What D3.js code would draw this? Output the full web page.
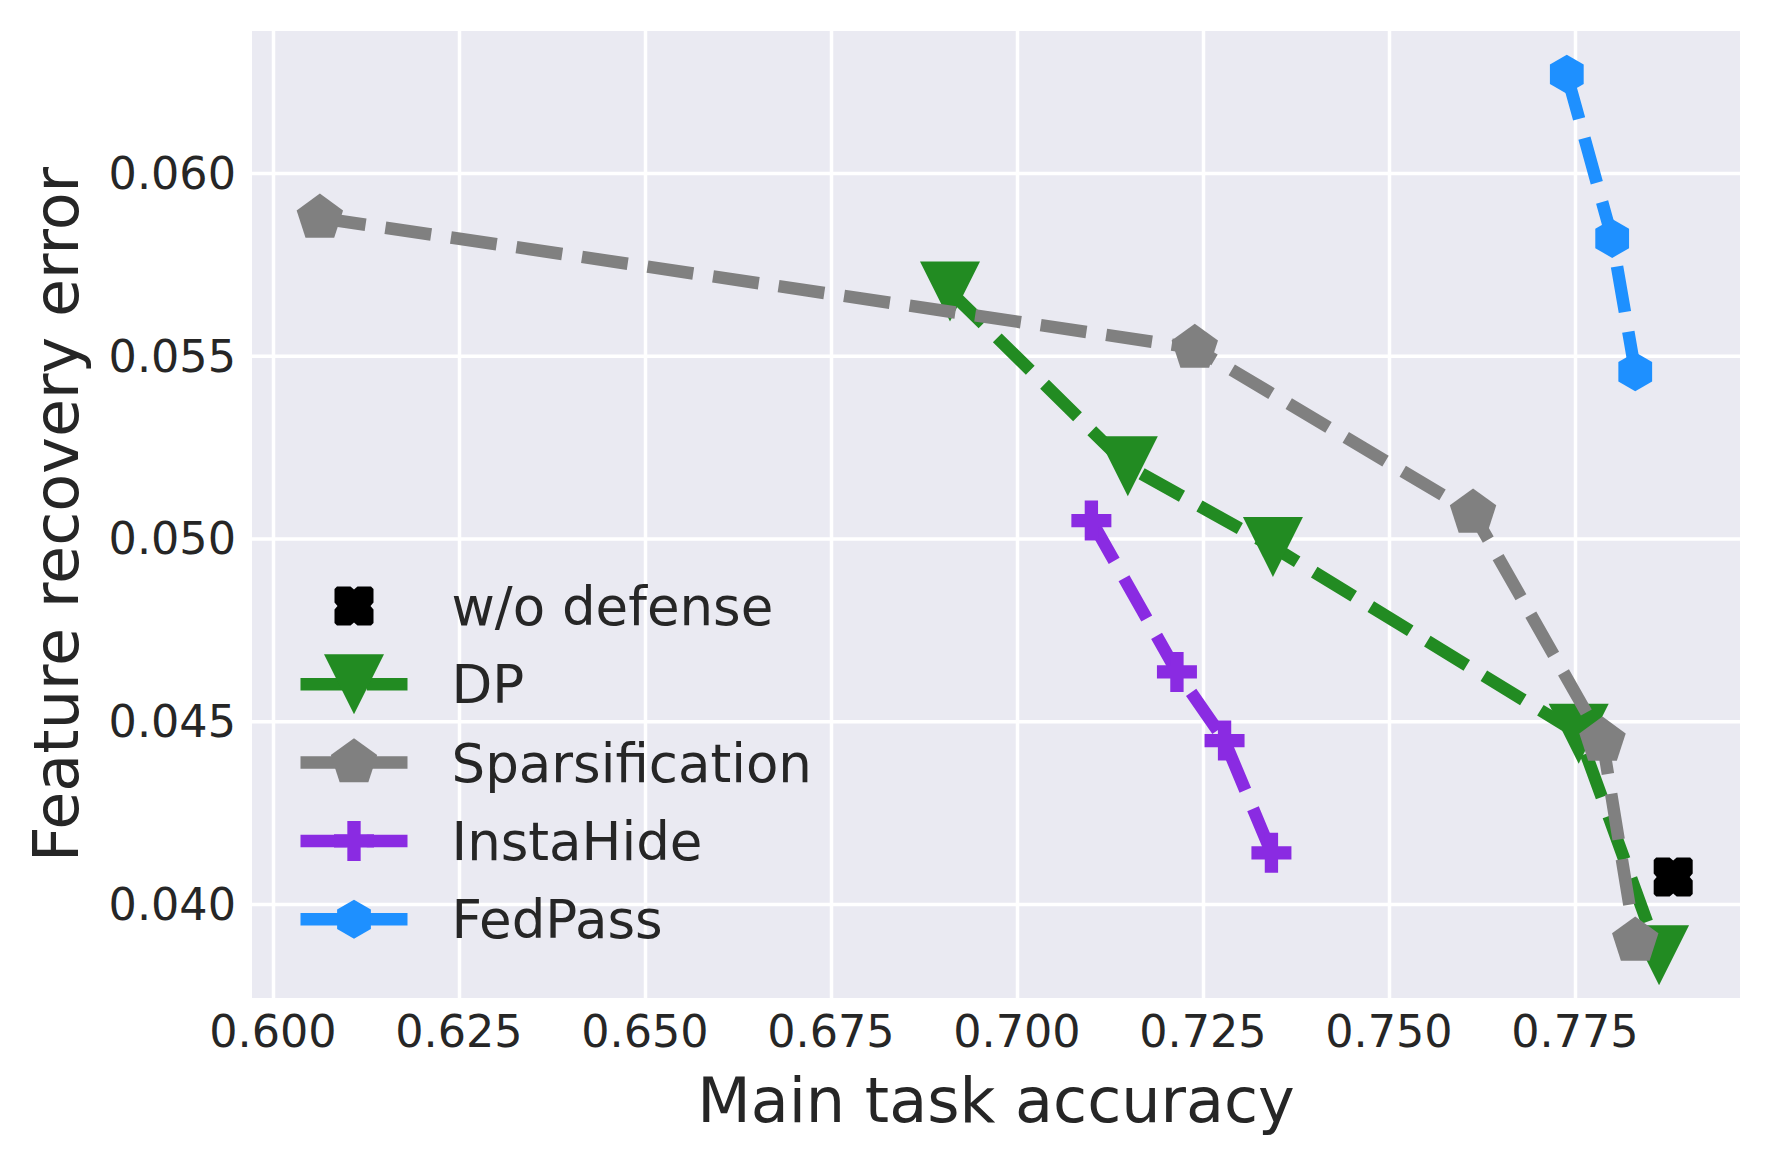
<!DOCTYPE html>
<html>
<head>
<meta charset="utf-8">
<script src="https://cdn.jsdelivr.net/npm/d3@7"></script>
<style>
  html, body { margin: 0; padding: 0; background: #fff; }
  svg { display: block; font-family: "DejaVu Sans", sans-serif; }
</style>
</head>
<body>
<div id="chart"></div>
<script>
// values
const seriesNames = ["w/o defense", "DP", "Sparsification", "InstaHide", "FedPass"];

const accNoDefense = [0.7882];
const errNoDefense = [0.04074];

const accDP = [0.6910, 0.7149, 0.7344, 0.7755, 0.7863];
const errDP = [0.05676, 0.05198, 0.04977, 0.04466, 0.03860];

const accSparsification = [0.6063, 0.7239, 0.7613, 0.7787, 0.7831];
const errSparsification = [0.05877, 0.05521, 0.05070, 0.04446, 0.03899];

const accInstaHide = [0.7100, 0.7215, 0.7279, 0.7342];
const errInstaHide = [0.05049, 0.04635, 0.04447, 0.04140];

const accFedPass = [0.7739, 0.7800, 0.7831];
const errFedPass = [0.06270, 0.05821, 0.05456];

const xTicks = [0.600, 0.625, 0.650, 0.675, 0.700, 0.725, 0.750, 0.775];
const yTicks = [0.040, 0.045, 0.050, 0.055, 0.060];

const xLabel = "Main task accuracy";
const yLabel = "Feature recovery error";

function renderChart(selector = "#chart") {
    const width = 1772;
    const height = 1166;
    const plot = { left: 252, right: 1740, top: 31, bottom: 998 };

    const textColor = "#262626";
    const lineWidth = 12.5;
    const dash = "46.25,20";

    const svg = d3.select(selector).append("svg")
        .attr("width", width)
        .attr("height", height)
        .attr("viewBox", `0 0 ${width} ${height}`);

    svg.append("rect")
        .attr("width", width).attr("height", height)
        .attr("fill", "#fff");

    const x = d3.scaleLinear()
        .domain([0.59718, 0.79718])
        .range([plot.left, plot.right]);

    const y = d3.scaleLinear()
        .domain([0.037428, 0.063885])
        .range([plot.bottom, plot.top]);

    // marker shapes, centred on 0,0
    const markerPaths = {
        "w/o defense": () => {
            const s = 19.5, n = 3, w = 3.5, c = 2.5;
            return `M${-s + c},${-s} L${-w},${-s} L0,${-s + n} L${w},${-s} L${s - c},${-s} L${s},${-s + c}
                    L${s},${-w} L${s - n},0 L${s},${w} L${s},${s - c} L${s - c},${s}
                    L${w},${s} L0,${s - n} L${-w},${s} L${-s + c},${s} L${-s},${s - c}
                    L${-s},${w} L${-s + n},0 L${-s},${-w} L${-s},${-s + c} Z`;
        },
        "DP": () => {
            const s = 30;
            return `M0,${s} L${-s},${-s} L${s},${-s} Z`;
        },
        "Sparsification": () => polygon(5, 24.4),
        "InstaHide": () => {
            const a = 20, b = a / 3;
            return `M${-b},${-a} L${b},${-a} L${b},${-b} L${a},${-b} L${a},${b} L${b},${b}
                    L${b},${a} L${-b},${a} L${-b},${b} L${-a},${b} L${-a},${-b} L${-b},${-b} Z`;
        },
        "FedPass": () => polygon(6, 19.5)
    };

    function polygon(n, r) {
        const pts = d3.range(n).map(k => {
            const ang = -Math.PI / 2 + k * 2 * Math.PI / n;
            return [r * Math.cos(ang), r * Math.sin(ang)];
        });
        return "M" + pts.map(p => p.join(",")).join("L") + "Z";
    }

    const styles = {
        "w/o defense": { color: "#000000", line: false },
        "DP": { color: "#228B22", line: true },
        "Sparsification": { color: "#808080", line: true },
        "InstaHide": { color: "#8A2BE2", line: true },
        "FedPass": { color: "#1E90FF", line: true }
    };

    const seriesData = {
        "w/o defense": d3.zip(accNoDefense, errNoDefense),
        "DP": d3.zip(accDP, errDP),
        "Sparsification": d3.zip(accSparsification, errSparsification),
        "InstaHide": d3.zip(accInstaHide, errInstaHide),
        "FedPass": d3.zip(accFedPass, errFedPass)
    };

    // plot background + grid
    svg.append("rect")
        .attr("x", plot.left).attr("y", plot.top)
        .attr("width", plot.right - plot.left)
        .attr("height", plot.bottom - plot.top)
        .attr("fill", "#EAEAF2");

    const xGrid = svg.append("g")
        .attr("class", "x-grid")
        .attr("transform", `translate(0,${plot.bottom})`)
        .call(d3.axisBottom(x).tickValues(xTicks).tickSize(-(plot.bottom - plot.top)).tickFormat(""));
    xGrid.select(".domain").remove();
    xGrid.selectAll("line").attr("stroke", "#fff").attr("stroke-width", 3.5);

    const yGrid = svg.append("g")
        .attr("class", "y-grid")
        .attr("transform", `translate(${plot.left},0)`)
        .call(d3.axisLeft(y).tickValues(yTicks).tickSize(-(plot.right - plot.left)).tickFormat(""));
    yGrid.select(".domain").remove();
    yGrid.selectAll("line").attr("stroke", "#fff").attr("stroke-width", 3.5);

    // tick labels
    svg.append("g")
        .attr("class", "x-ticks")
        .selectAll("text")
        .data(xTicks)
        .join("text")
        .attr("x", d => x(d))
        .attr("y", 1047)
        .attr("text-anchor", "middle")
        .attr("fill", textColor)
        .style("font-size", "44.5px")
        .text(d3.format(".3f"));

    svg.append("g")
        .attr("class", "y-ticks")
        .selectAll("text")
        .data(yTicks)
        .join("text")
        .attr("x", 236)
        .attr("y", d => y(d) + 16)
        .attr("text-anchor", "end")
        .attr("fill", textColor)
        .style("font-size", "44.5px")
        .text(d3.format(".3f"));

    // axis labels
    svg.append("text")
        .attr("x", (plot.left + plot.right) / 2)
        .attr("y", 1122)
        .attr("text-anchor", "middle")
        .attr("fill", textColor)
        .style("font-size", "62px")
        .text(xLabel);

    svg.append("text")
        .attr("transform", `translate(78,${(plot.top + plot.bottom) / 2}) rotate(-90)`)
        .attr("text-anchor", "middle")
        .attr("fill", textColor)
        .style("font-size", "62px")
        .text(yLabel);

    // series
    const line = d3.line()
        .x(d => x(d[0]))
        .y(d => y(d[1]));

    const seriesG = svg.append("g").attr("class", "series");

    seriesNames.forEach(name => {
        const st = styles[name];
        const data = seriesData[name];
        const g = seriesG.append("g").attr("class", "s-" + name.replace(/\W/g, ""));
        if (st.line) {
            g.append("path")
                .datum(data)
                .attr("fill", "none")
                .attr("stroke", st.color)
                .attr("stroke-width", lineWidth)
                .attr("stroke-dasharray", dash)
                .attr("stroke-linejoin", "round")
                .attr("stroke-linecap", "butt")
                .attr("d", line);
        }
        g.selectAll("path.marker")
            .data(data)
            .join("path")
            .attr("class", "marker")
            .attr("transform", d => `translate(${x(d[0])},${y(d[1])})`)
            .attr("d", markerPaths[name]())
            .attr("fill", st.color);
    });

    // legend (no frame)
    const legend = svg.append("g")
        .attr("class", "legend")
        .attr("transform", "translate(300.5,606)");

    seriesNames.forEach((name, i) => {
        const st = styles[name];
        const g = legend.append("g").attr("transform", `translate(0,${i * 78.3})`);
        if (st.line) {
            g.append("line")
                .attr("x1", 0).attr("x2", 107)
                .attr("y1", 0).attr("y2", 0)
                .attr("stroke", st.color)
                .attr("stroke-width", lineWidth)
                .attr("stroke-dasharray", dash);
        }
        g.append("path")
            .attr("transform", "translate(53.5,0)")
            .attr("d", markerPaths[name]())
            .attr("fill", st.color);
        g.append("text")
            .attr("x", 151)
            .attr("y", 19)
            .attr("fill", textColor)
            .style("font-size", "53px")
            .text(name);
    });
}

renderChart();
</script>
</body>
</html>
